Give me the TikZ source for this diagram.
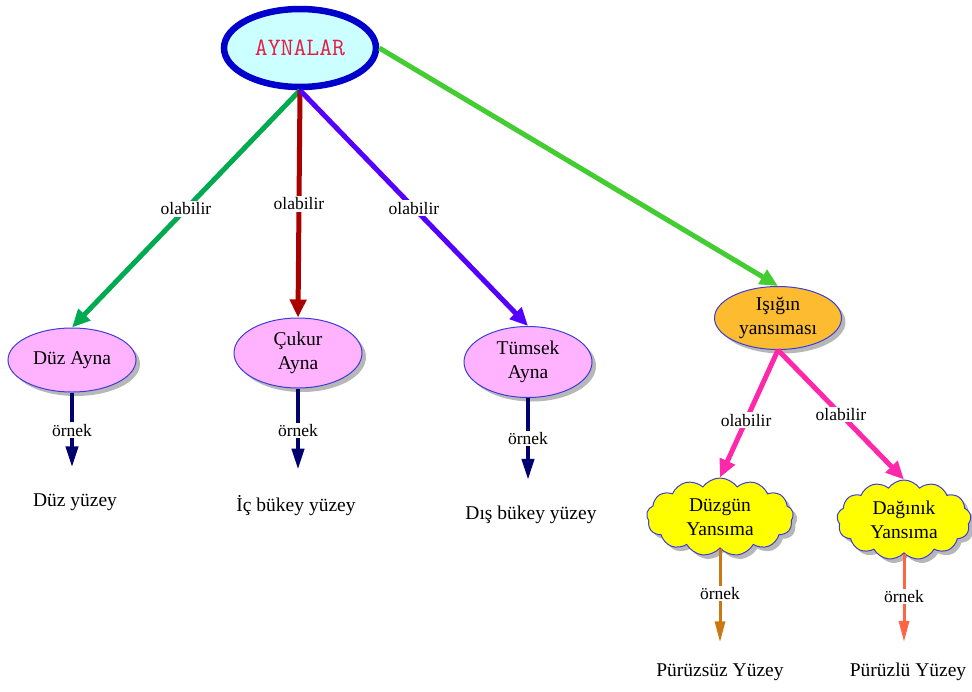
\documentclass[tikz,border=0pt]{standalone}
\usepackage{fontspec}
\setmainfont{Liberation Serif}
\usetikzlibrary{arrows.meta,shapes.geometric,shapes.symbols,shadows}
\definecolor{cgreen}{RGB}{0,170,80}
\definecolor{cred}{RGB}{170,0,0}
\definecolor{cpurple}{RGB}{85,0,255}
\definecolor{clime}{RGB}{68,204,51}
\definecolor{cpink}{RGB}{255,40,170}
\definecolor{cnavy}{RGB}{0,0,110}
\definecolor{cbrown}{RGB}{204,119,17}
\definecolor{ccoral}{RGB}{255,100,70}
\definecolor{fpink}{RGB}{255,179,255}
\definecolor{forange}{RGB}{253,187,48}
\definecolor{fyellow}{RGB}{255,255,0}
\definecolor{fcyan}{RGB}{204,255,255}
\definecolor{bdark}{RGB}{0,0,204}
\definecolor{bblue}{RGB}{60,60,220}
\definecolor{ctitle}{RGB}{230,30,70}
\begin{document}
\begin{tikzpicture}[x=1pt,y=-1pt,
  font=\fontsize{19.5}{24}\selectfont,
  shad/.style={drop shadow={shadow xshift=4pt,shadow yshift=-4pt,fill=black!40,opacity=0.7}},
  ell/.style={ellipse,draw=bblue,line width=1pt,align=center,inner sep=0pt,shad},
  mirror/.style={ell,fill=fpink,minimum width=128pt},
  cloudbox/.style={cloud,cloud puffs=13,cloud puff arc=110,cloud ignores aspect,draw=bblue,line width=1pt,fill=fyellow,align=center,inner sep=0pt,minimum width=147pt,minimum height=78pt,shad},
  leaf/.style={inner sep=2pt},
  lbl/.style={fill=white,inner sep=1.5pt,text=black,font=\fontsize{17.5}{20}\selectfont},
  main/.style={line width=5pt,-{Triangle[length=18pt,width=16pt]}},
  ex/.style={line width=4pt,-{Triangle[length=21pt,width=12pt]},shorten >=24pt},
  ex2/.style={line width=3pt,-{Triangle[length=21pt,width=10pt]},shorten >=19pt}
]
\useasboundingbox (0,0) rectangle (972,691);
% nodes
\node[ellipse,draw=bdark,line width=6.5pt,fill=fcyan,minimum width=152pt,minimum height=78pt,
  text=ctitle,font=\ttfamily\fontsize{25}{27}\selectfont] (A) at (300,48) {AYNALAR};
\node[mirror,minimum height=64pt] (D) at (72,360) {Düz Ayna};
\node[mirror,minimum height=70pt] (C) at (298,353) {Çukur\\Ayna};
\node[mirror,minimum height=71pt] (T) at (528,362) {Tümsek\\Ayna};
\node[ell,fill=forange,minimum width=127pt,minimum height=63pt] (I) at (778,318) {Işığın\\yansıması};
\node[cloudbox] (DY) at (720,517) {Düzgün\\Yansıma};
\node[cloudbox,minimum width=134pt,minimum height=80pt] (DG) at (904,520) {Dağınık\\Yansıma};
\node[leaf] (Dt) at (75,502) {Düz yüzey};
\node[leaf] (Ct) at (296,506) {İç bükey yüzey};
\node[leaf] (Tt) at (531,515) {Dış bükey yüzey};
\node[leaf] (P1) at (720,672) {Pürüzsüz Yüzey};
\node[leaf] (P2) at (908,672) {Pürüzlü Yüzey};
% main connectors
\draw[main,cgreen] (A.south) -- node[lbl]{olabilir} (D.north);
\draw[main,cred] (A.south) -- node[lbl]{olabilir} (C.north);
\draw[main,cpurple] (A.south) -- node[lbl]{olabilir} (T.north);
\draw[main,clime] (A.east) -- (I.north);
\draw[main,cpink] (I.south) -- node[lbl,pos=0.55]{olabilir} (DY.north);
\draw[main,cpink] (I.south) -- node[lbl]{olabilir} (DG.north);
% example connectors
\draw[ex,cnavy] (D.south) -- node[lbl,pos=0.38]{örnek} (D.south |- Dt.north);
\draw[ex,cnavy] (C.south) -- node[lbl,pos=0.4]{örnek} (C.south |- Ct.north);
\draw[ex,cnavy] (T.south) -- node[lbl,pos=0.38]{örnek} (T.south |- Tt.north);
\draw[ex2,cbrown] (DY.south) -- node[lbl,pos=0.4]{örnek} (DY.south |- P1.north);
\draw[ex2,ccoral] (DG.south) -- node[lbl,pos=0.4]{örnek} (DG.south |- P2.north);
\end{tikzpicture}
\end{document}
